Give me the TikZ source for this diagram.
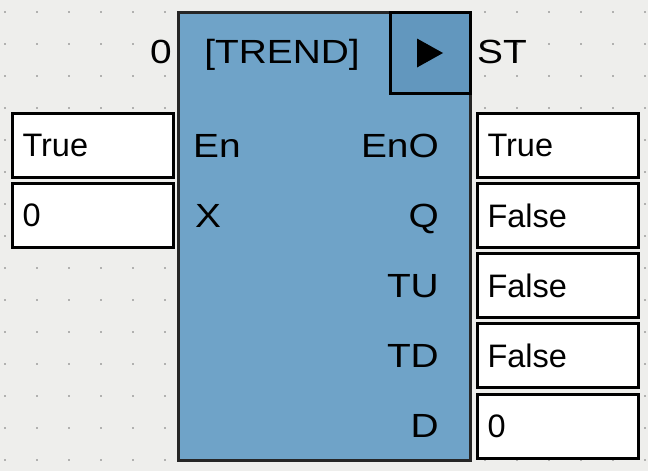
\documentclass[tikz,border=0pt]{standalone}
\usepackage{fontspec}
\setmainfont{Liberation Sans}
\newfontfamily\pinfont[FakeStretch=1.16]{Liberation Sans}
\usetikzlibrary{calc}
\definecolor{sheet}{HTML}{EEEEEC}
\definecolor{fbfill}{HTML}{6FA3C8}
\definecolor{runfill}{HTML}{6297BE}
\definecolor{fbline}{HTML}{262626}
\tikzset{
	pin/.style={inner sep=0pt, font=\pinfont\fontsize{33.5}{40}\selectfont},
	valbox/.style={draw=black, line width=3pt, fill=white, anchor=north west,
		minimum height=64pt, text width=141pt, inner xsep=10pt, align=left,
		font=\fontsize{32.5}{38}\selectfont},
}

\begin{document}
\begin{tikzpicture}[x=1pt, y=-1pt]
		%%%%% START %%%%%
		\useasboundingbox[fill=sheet] (0, 0) rectangle (648, 471);
		
		% grid dots
		\foreach \i in {0,...,20}
			\foreach \j in {0,...,14}
				\fill[black!55] (5+32*\i, 12+32*\j) circle (0.9);
		
		% function block
		\draw[fill=fbfill, draw=fbline, line width=3pt] (178, 12) rectangle (470, 460);
		\draw[fill=runfill, line width=3pt] (390, 12) rectangle (470, 93);
		\fill (417, 38.5) -- (443, 53) -- (417, 67.5) -- cycle;
		
		\node[pin, anchor=base east] (inst) at (172, 63) {0};
		\node[pin, anchor=base] (title) at (282, 63) {[TREND]};
		\node[pin, anchor=base west] (st) at (477, 63) {ST};
		
		\node[pin, anchor=base west] (en) at (193, 157) {En};
		\node[pin, anchor=base west] (x) at (195, 227) {X};
		
		\node[pin, anchor=base east] (eno) at (439, 157) {EnO};
		\node[pin, anchor=base east] (q) at (439, 227) {Q};
		\node[pin, anchor=base east] (tu) at (439, 297) {TU};
		\node[pin, anchor=base east] (td) at (439, 367) {TD};
		\node[pin, anchor=base east] (d) at (439, 437) {D};
		
		% inputs
		\node[valbox] (inen) at (11, 112) {True};
		\node[valbox] (inx) at (11, 182) {0};
		
		% outputs
		\node[valbox] (outeno) at (476, 112) {True};
		\node[valbox] (outq) at (476, 182) {False};
		\node[valbox] (outtu) at (476, 252) {False};
		\node[valbox] (outtd) at (476, 322) {False};
		\node[valbox] (outd) at (476, 393) {0};
		
		%%%%% END %%%%%
	\end{tikzpicture}
\end{document}
